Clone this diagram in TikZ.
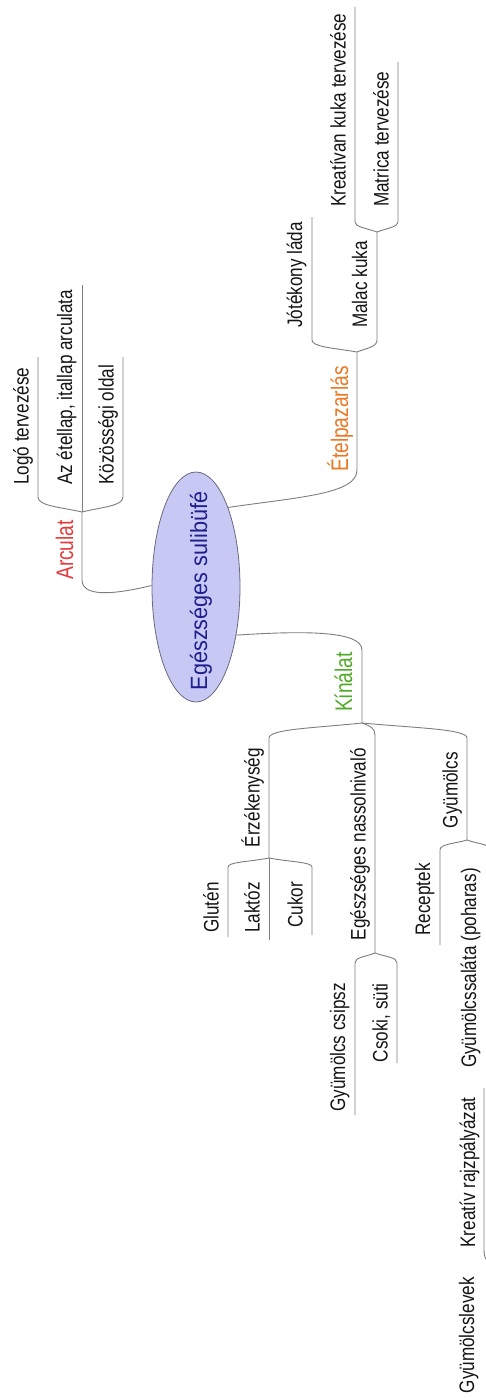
\documentclass[tikz,border=0pt]{standalone}
\usepackage{fontspec}
\newfontfamily\mmfont[FakeStretch=0.815]{Liberation Sans}
\newfontfamily\mlfont[FakeStretch=0.8]{Liberation Sans}
\newfontfamily\mcfont[FakeStretch=0.92]{Liberation Sans}
\usetikzlibrary{shapes.geometric}
\definecolor{lnc}{RGB}{125,125,125}
\definecolor{ellf}{RGB}{200,200,245}
\definecolor{elld}{RGB}{105,105,125}
\definecolor{navyc}{RGB}{30,30,140}
\definecolor{arcred}{RGB}{228,60,60}
\definecolor{etorange}{RGB}{236,120,36}
\definecolor{kgreen}{RGB}{80,170,40}
\definecolor{txt}{RGB}{20,20,20}
\begin{document}
\begin{tikzpicture}[x=1pt,y=-1pt,
  ln/.style={draw=lnc, line width=0.9pt},
  leaf/.style={rotate=90, inner sep=0pt, text=txt, font=\mmfont\fontsize{21}{24}\selectfont},
  mainlbl/.style={rotate=90, inner sep=0pt, font=\mlfont\fontsize{24}{27}\selectfont},
  rs/.style={anchor=base west}, ls/.style={anchor=base east}]
\useasboundingbox (0,0) rectangle (486,1399);
\clip (0,0) rectangle (486,1399);

% central node
\node[ellipse, draw=elld, fill=ellf, line width=0.8pt, minimum width=88pt, minimum height=230pt, inner sep=0pt] (c) at (196,587) {};
\node[rotate=90, anchor=base, inner sep=0pt, text=navyc, font=\mcfont\fontsize{23.5}{27}\selectfont] (ct) at (207,591) {Egészséges sulibüfé};

% right side labels
\node[mainlbl, rs, text=arcred] (arc) at (73,580) {Arculat};
\node[leaf, rs] (logo) at (28.5,485) {Logó tervezése};
\node[leaf, rs] (etl) at (72,485) {Az étellap, itallap arculata};
\node[leaf, rs] (koz) at (113.5,485) {Közösségi oldal};
\node[mainlbl, rs, text=etorange] (etp) at (348,472) {Ételpazarlás};
\node[leaf, rs] (jot) at (302,328) {Jótékony láda};
\node[leaf, rs] (mal) at (367,328) {Malac kuka};
\node[leaf, rs] (kre) at (345.5,207) {Kreatívan kuka tervezése};
\node[leaf, rs] (mat) at (388.5,207) {Matrica tervezése};

% left side labels
\node[mainlbl, ls, text=kgreen] (kin) at (352,652) {Kínálat};
\node[leaf, ls] (erz) at (259.5,748) {Érzékenység};
\node[leaf, ls] (nas) at (365.5,748) {Egészséges nassolnivaló};
\node[leaf, ls] (gyu) at (457.5,752) {Gyümölcs};
\node[leaf, ls] (glu) at (218.5,882) {Glutén};
\node[leaf, ls] (lak) at (259.5,882) {Laktóz};
\node[leaf, ls] (cuk) at (302.5,882) {Cukor};
\node[leaf, ls] (csi) at (345,983) {Gyümölcs csipsz};
\node[leaf, ls] (cso) at (387.5,983) {Csoki, süti};
\node[leaf, ls] (rec) at (430,863) {Receptek};
\node[leaf, ls] (sal) at (476,868) {Gyümölcssaláta (poharas)};
\node[leaf, ls] (rajz) at (475,1097) {Kreatív rajzpályázat};
\node[leaf, ls] (lev) at (474,1277) {Gyümölcslevek};

% junctions
\coordinate (JA) at (82,512);
\coordinate (JE) at (357,352);
\coordinate (JM) at (377,232);
\coordinate (JK) at (362,723);
\coordinate (JZ) at (269,858);
\coordinate (JN) at (375,953);
\coordinate (JG) at (467,840);

% main connectors
\draw[ln] (c.178) .. controls (125,592) and (82,600) .. (82,580) -- (JA);
\draw[ln] (c.68) .. controls (300,497) and (357,494) .. (357,470) -- (JE);
\draw[ln] (c.-50) .. controls (300,631) and (362,630) .. (362,650) -- (JK);

% Arculat
\draw[ln] (JA) .. controls (60,507) and (38,506) .. (38,497) -- (38,357);
\draw[ln] (JA) -- (82,285);
\draw[ln] (JA) .. controls (102.5,507) and (123,506) .. (123,497) -- (123,357);

% Ételpazarlás
\draw[ln] (JE) .. controls (334,348) and (312,347) .. (312,340) -- (312,217);
\draw[ln] (JE) .. controls (367,348) and (377,347) .. (377,340) -- (JM);
\draw[ln] (JM) .. controls (366,228) and (355,227) .. (355,222) -- (355,7);
\draw[ln] (JM) .. controls (387.5,228) and (398,227) .. (398,222) -- (398,62);

% Kínálat
\draw[ln] (JK) .. controls (315,728) and (269,729) .. (269,738) -- (JZ);
\draw[ln] (JK) .. controls (370,726) and (375,728) .. (375,735) -- (JN);
\draw[ln] (JK) .. controls (415,728) and (467,729) .. (467,738) -- (JG);
\draw[ln] (JZ) .. controls (248,862) and (228,862) .. (228,867) -- (228,937);
\draw[ln] (JZ) -- (269,940);
\draw[ln] (JZ) .. controls (290,862) and (312,862) .. (312,867) -- (312,935);
\draw[ln] (JN) .. controls (365,957) and (355,957) .. (355,963) -- (355,1115);
\draw[ln] (JN) .. controls (386,957) and (397,957) .. (397,963) -- (397,1063);
\draw[ln] (JG) .. controls (453,844) and (440,844) .. (440,850) -- (440,945);
\draw[ln] (JG) .. controls (478,844) and (490,844) .. (490,850) -- (490,1080);
\coordinate (K1) at (484,1088);
\coordinate (K2) at (500,1266);
\draw[ln] (K1) -- (484,1250) .. controls (484,1260) and (488,1264) .. (K2);
\end{tikzpicture}
\end{document}
